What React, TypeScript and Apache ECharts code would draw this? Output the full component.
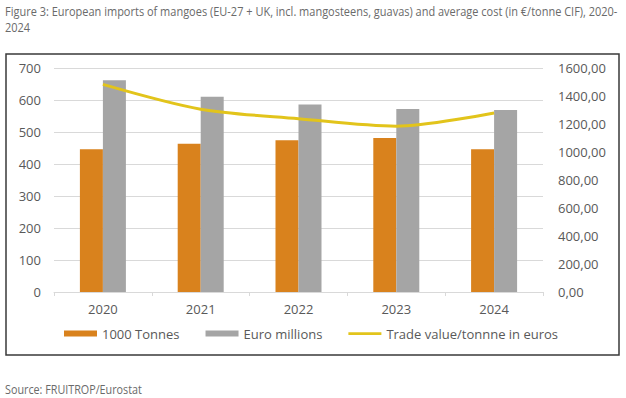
import React, { useEffect, useRef } from "react";
import * as echarts from "echarts";

const years = ["2020", "2021", "2022", "2023", "2024"];
const tonnes = [446, 463, 474, 481, 446];
const euroMillions = [662, 610, 586, 572, 569];
const valuePerTonne = [1483, 1306, 1238, 1184, 1279];

const leftMax = 700;
const leftInterval = 100;
const rightMax = 1600;
const rightInterval = 200;

const titleLine1 =
  "Figure 3: European imports of mangoes (EU-27 + UK, incl. mangosteens, guavas) and average cost (in €/tonne CIF), 2020-";
const titleLine2 = "2024";
const sourceText = "Source: FRUITROP/Eurostat";

const FONT = "'Open Sans', sans-serif";

function measure(text: string, font: string): number {
  const c = document.createElement("canvas");
  const ctx = c.getContext("2d");
  if (!ctx) return text.length * 6;
  ctx.font = font;
  return ctx.measureText(text).width;
}

export default function App() {
  const ref = useRef<HTMLDivElement>(null);

  useEffect(() => {
    document.body.style.margin = "0";
    if (!ref.current) return;
    const chart = echarts.init(ref.current, undefined, { renderer: "svg" });

    const titleFont = `12px ${FONT}`;
    const t1w = measure(titleLine1, titleFont);
    const titleScale = 613 / t1w;
    const sw = measure(sourceText, titleFont);
    const sourceScale = 137 / sw;

    chart.setOption({
      animation: false,
      backgroundColor: "#ffffff",
      textStyle: { fontFamily: FONT },
      grid: { left: 54, right: 83, top: 68, bottom: 106 },
      legend: {
        left: 64,
        top: 327,
        padding: 0,
        itemWidth: 33,
        itemHeight: 6,
        itemGap: 26,
        textStyle: { color: "#595959", fontSize: 13, fontFamily: FONT },
        data: [
          { name: "1000 Tonnes", icon: "rect" },
          { name: "Euro millions", icon: "rect" },
          { name: "Trade value/tonnne in euros", icon: "path://M0 0H36V3H0Z" },
        ],
      },
      xAxis: {
        type: "category",
        data: years,
        axisLine: { lineStyle: { color: "#D9D9D9", width: 1 } },
        axisTick: { show: true, length: 4, lineStyle: { color: "#D9D9D9" } },
        axisLabel: { color: "#595959", fontSize: 13, margin: 10, fontFamily: FONT },
      },
      yAxis: [
        {
          type: "value",
          min: 0,
          max: leftMax,
          interval: leftInterval,
          axisLine: { show: false },
          axisTick: { show: false },
          axisLabel: { color: "#595959", fontSize: 13, margin: 13, fontFamily: FONT },
          splitLine: { lineStyle: { color: "#D9D9D9", width: 1 } },
        },
        {
          type: "value",
          min: 0,
          max: rightMax,
          interval: rightInterval,
          position: "right",
          axisLine: { show: false },
          axisTick: { show: false },
          splitLine: { show: false },
          axisLabel: {
            color: "#595959",
            fontSize: 13,
            margin: 15,
            fontFamily: FONT,
            formatter: (v: number) => v.toFixed(2).replace(".", ","),
          },
        },
      ],
      series: [
        {
          name: "1000 Tonnes",
          type: "bar",
          data: tonnes,
          barWidth: 23,
          barGap: "0%",
          itemStyle: { color: "#D9821D" },
        },
        {
          name: "Euro millions",
          type: "bar",
          data: euroMillions,
          barWidth: 23,
          barGap: "0%",
          itemStyle: { color: "#A5A5A5" },
        },
        {
          name: "Trade value/tonnne in euros",
          type: "line",
          yAxisIndex: 1,
          data: valuePerTonne,
          smooth: 0.3,
          showSymbol: false,
          symbol: "none",
          lineStyle: { color: "#E2C41B", width: 3 },
          itemStyle: { color: "#E2C41B" },
        },
      ],
      graphic: [
        {
          type: "rect",
          shape: { x: 6, y: 54, width: 613, height: 301 },
          style: { fill: "none", stroke: "#3a3a3a", lineWidth: 1.5 },
          z: -1,
        },
        {
          type: "text",
          x: 5,
          y: 11,
          scaleX: titleScale,
          style: {
            text: titleLine1,
            font: titleFont,
            fill: "#6a6a6a",
            verticalAlign: "middle",
          },
        },
        {
          type: "text",
          x: 5,
          y: 27,
          scaleX: titleScale,
          style: {
            text: titleLine2,
            font: titleFont,
            fill: "#6a6a6a",
            verticalAlign: "middle",
          },
        },
        {
          type: "text",
          x: 5,
          y: 389,
          scaleX: sourceScale,
          style: {
            text: sourceText,
            font: titleFont,
            fill: "#6a6a6a",
            verticalAlign: "middle",
          },
        },
      ],
    });

    return () => chart.dispose();
  }, []);

  return <div ref={ref} style={{ width: 626, height: 398 }} />;
}
